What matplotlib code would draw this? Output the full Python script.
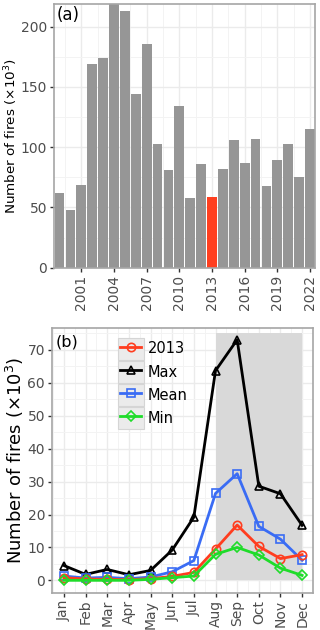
"""
Annual and monthly fire counts: bar chart (a) and monthly climatology (b).
"""

import matplotlib
matplotlib.use("Agg")
import matplotlib.pyplot as plt
from matplotlib.legend_handler import HandlerLine2D
from matplotlib.patches import Rectangle
from matplotlib.ticker import MultipleLocator
from matplotlib.transforms import blended_transform_factory
import numpy as np

# Panel (a): annual number of fires (x10^3)
years = list(range(1999, 2023))
annual = [62, 48, 69, 169, 174, 225, 213, 144, 186, 103, 81, 134,
          58, 86, 58.5, 82, 106, 87, 107, 68, 89, 103, 75, 115]
highlight_year = 2013
year_ticks = [2001, 2004, 2007, 2010, 2013, 2016, 2019, 2022]

# Panel (b): monthly number of fires (x10^3)
months = ["Jan", "Feb", "Mar", "Apr", "May", "Jun",
          "Jul", "Aug", "Sep", "Oct", "Nov", "Dec"]
y2013 = [0.8, 0.4, 0.3, 0.2, 0.5, 1.2, 2.4, 9.5, 16.8, 10.3, 6.6, 7.8]
y_max = [4.5, 1.8, 3.3, 1.7, 3.0, 9.2, 19.2, 63.7, 73.1, 28.6, 26.3, 16.7]
y_mean = [1.3, 0.7, 0.9, 0.5, 1.0, 2.6, 6.0, 26.4, 32.4, 16.4, 12.5, 6.1]
y_min = [0.0, 0.0, 0.0, 0.0, 0.3, 0.8, 1.3, 7.9, 10.0, 7.7, 3.7, 1.5]
season_start, season_end, season_top = 8, 12, 75

GRID = "#ebebeb"
TICK_COL = "#4d4d4d"
BORDER = "#a6a6a6"


class KeyHandler(HandlerLine2D):
    """Legend line handler that draws a grey key box behind the line."""

    def create_artists(self, legend, orig_handle, xdescent, ydescent,
                       width, height, fontsize, trans):
        pad = 1.8
        box = Rectangle((-xdescent - pad, -ydescent - pad),
                        width + 2 * pad, height + 2 * pad,
                        facecolor="#ebebeb", edgecolor="#d5d5d5",
                        linewidth=0.8, transform=trans)
        artists = super().create_artists(legend, orig_handle, xdescent,
                                         ydescent, width, height,
                                         fontsize, trans)
        return [box] + artists


def style_axes(ax):
    ax.set_facecolor("white")
    ax.grid(which="major", color=GRID, linewidth=1.0, zorder=0)
    ax.grid(which="minor", color="#f3f3f3", linewidth=0.7, zorder=0)
    ax.set_axisbelow(True)
    for sp in ax.spines.values():
        sp.set_color(BORDER)
        sp.set_linewidth(1.2)
    ax.tick_params(which="major", direction="out", length=3, width=1,
                   color="#333333", labelcolor=TICK_COL, pad=2)
    ax.tick_params(which="minor", length=0)


def place_ylabel(ax, xfig):
    """Put the y label centred at a fixed figure x, centred on the axes."""
    ax.yaxis.set_label_coords(
        xfig, 0.5, transform=blended_transform_factory(fig.transFigure,
                                                       ax.transAxes))


fig = plt.figure(figsize=(3.2, 6.3), dpi=100)

# ---- panel (a)
ax1 = fig.add_axes([0.169, 0.575, 0.815, 0.419])
colors = ["#ff4020" if y == highlight_year else "#969696" for y in years]
ax1.bar(years, annual, width=0.9, color=colors, zorder=2)
ax1.set_xlim(1998.5, 2022.45)
ax1.set_ylim(0, 219)
ax1.set_xticks(year_ticks)
ax1.set_xticklabels([str(y) for y in year_ticks], rotation=90)
ax1.xaxis.set_minor_locator(MultipleLocator(1.5))
ax1.set_yticks([0, 50, 100, 150, 200])
ax1.yaxis.set_minor_locator(MultipleLocator(25))
style_axes(ax1)
ax1.tick_params(axis="both", labelsize=10)
ax1.set_ylabel("Number of fires (×10$^3$)", fontsize=9.7, va="center")
place_ylabel(ax1, 0.034)
ax1.text(0.008, 0.99, "(a)", transform=ax1.transAxes, fontsize=12,
         ha="left", va="top")

# ---- panel (b)
ax2 = fig.add_axes([0.1625, 0.059, 0.8155, 0.42])
x = np.arange(1, 13)
ax2.fill_between([season_start, season_end], 0, season_top,
                 color="#d9d9d9", zorder=1, linewidth=0)
lw = 2.0
ax2.plot(x, y2013, color="#ff3d1f", marker="o", mfc="none", ms=6,
         mew=1.2, lw=lw, label="2013", zorder=4)
ax2.plot(x, y_max, color="black", marker="^", mfc="none", ms=6,
         mew=1.2, lw=lw, label="Max", zorder=3)
ax2.plot(x, y_mean, color="#3a6cf4", marker="s", mfc="none", ms=6,
         mew=1.2, lw=lw, label="Mean", zorder=3)
ax2.plot(x, y_min, color="#1fdc2a", marker="D", mfc="none", ms=5,
         mew=1.2, lw=lw, label="Min", zorder=5)
ax2.set_xlim(0.45, 12.5)
ax2.set_ylim(-3.8, 76.6)
ax2.set_xticks(x)
ax2.set_xticklabels(months, rotation=90)
ax2.xaxis.set_minor_locator(MultipleLocator(0.5))
ax2.set_yticks(range(0, 71, 10))
ax2.yaxis.set_minor_locator(MultipleLocator(5))
style_axes(ax2)
ax2.tick_params(axis="both", labelsize=10)
ax2.set_ylabel("Number of fires (×10$^3$)", fontsize=13, va="center")
place_ylabel(ax2, 0.046)
ax2.text(0.015, 0.975, "(b)", transform=ax2.transAxes, fontsize=11.5,
         ha="left", va="top")

handles, labels = ax2.get_legend_handles_labels()
leg = ax2.legend(handles, labels, loc="upper left",
                 bbox_to_anchor=(0.262, 0.955), frameon=False,
                 fontsize=10.5, handlelength=1.42, handleheight=1.42,
                 labelspacing=0.42, handletextpad=0.45, borderpad=0,
                 borderaxespad=0,
                 handler_map={h: KeyHandler() for h in handles})

fig.savefig("out.png", dpi=100)
